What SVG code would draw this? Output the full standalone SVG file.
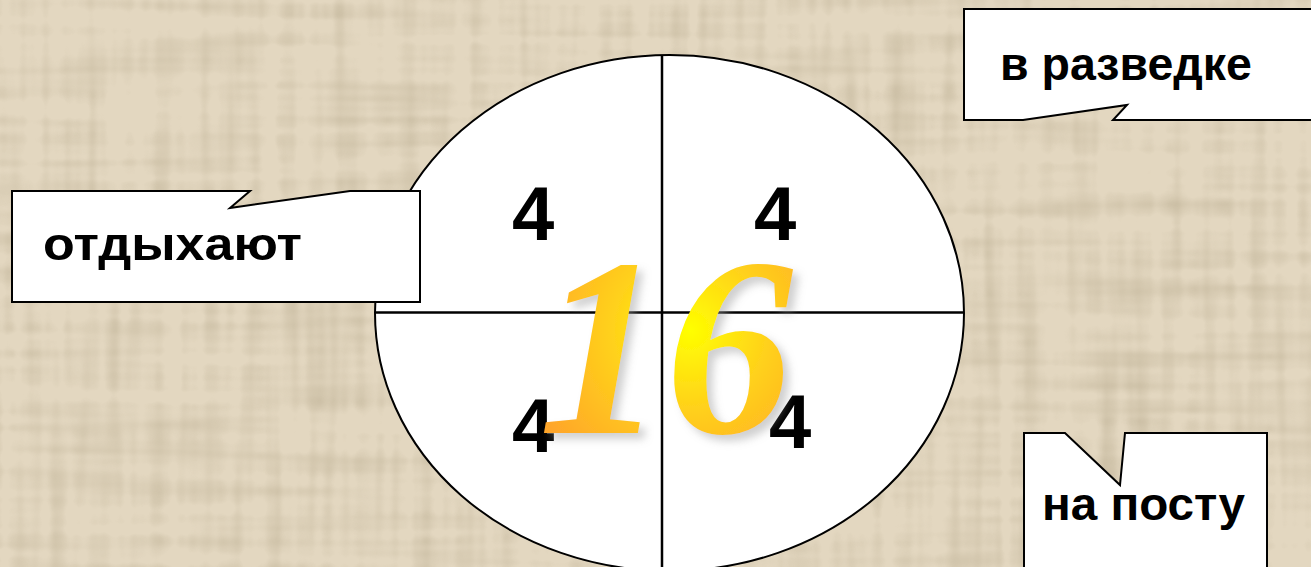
<svg xmlns="http://www.w3.org/2000/svg" width="1311" height="567" viewBox="0 0 1311 567">
  <defs>
    <filter id="tex" x="0" y="0" width="100%" height="100%">
      <feTurbulence type="fractalNoise" baseFrequency="0.004 0.06" numOctaves="2" seed="3" result="h"/>
      <feTurbulence type="fractalNoise" baseFrequency="0.06 0.004" numOctaves="2" seed="7" result="v"/>
      <feComposite in="h" in2="v" operator="arithmetic" k1="0" k2="0.5" k3="0.5" k4="0"/>
      <feColorMatrix type="matrix" values="0 0 0 0 0.45  0 0 0 0 0.38  0 0 0 0 0.25  -2.2 0 0 0 1.25"/>
    </filter>
    <radialGradient id="gold" cx="690" cy="330" r="170" gradientUnits="userSpaceOnUse">
      <stop offset="0" stop-color="#FFFF00"/>
      <stop offset="0.45" stop-color="#FFD21A"/>
      <stop offset="1" stop-color="#FFA62A"/>
    </radialGradient>
    <filter id="shadow" x="-20%" y="-20%" width="140%" height="140%">
      <feGaussianBlur in="SourceAlpha" stdDeviation="4"/>
      <feOffset dx="6" dy="6" result="b"/>
      <feColorMatrix in="b" type="matrix" values="0 0 0 0 0.3  0 0 0 0 0.3  0 0 0 0 0.3  0 0 0 0.45 0" result="s"/>
      <feMerge><feMergeNode in="s"/><feMergeNode in="SourceGraphic"/></feMerge>
    </filter>
  </defs>
  <style>
    .box { fill: #FFFFFF; stroke: #000000; stroke-width: 2; stroke-linejoin: miter; }
    .lbl { font-family: "Liberation Sans", Arial, sans-serif; font-weight: bold; font-size: 47px; fill: #000000; }
    .four { font-family: "Liberation Sans", Arial, sans-serif; font-weight: bold; font-size: 76px; fill: #000000; }
    .div { stroke: #000000; stroke-width: 2.5; }
  </style>

  <rect id="background" x="0" y="0" width="1311" height="567" fill="#E3D7C0"/>
  <rect x="0" y="0" width="1311" height="567" filter="url(#tex)" opacity="0.6"/>

  <g id="circle">
    <ellipse cx="669.5" cy="313" rx="294.5" ry="258" fill="#FFFFFF" stroke="#000000" stroke-width="2"/>
  </g>

  <g id="connectors">
    <line class="div" x1="662" y1="55" x2="662" y2="567"/>
    <line class="div" x1="375" y1="312.5" x2="964" y2="312.5"/>
  </g>

  <g id="quadrant-tl"><text class="four" x="512" y="240">4</text></g>
  <g id="quadrant-tr"><text class="four" x="754" y="240">4</text></g>
  <g id="quadrant-bl"><text class="four" x="512" y="452">4</text></g>
  <g id="quadrant-br"><text class="four" x="769" y="448">4</text></g>

  <g id="total" filter="url(#shadow)">
    <text x="538" y="433" font-family="Liberation Serif, 'Times New Roman', serif" font-style="italic" font-weight="bold" font-size="255" fill="url(#gold)">16</text>
  </g>

  <g id="callout-rest">
    <path class="box" d="M12,191 H250 L230,208 L350,191 H420 V302 H12 Z"/>
    <text class="lbl" x="43" y="260" textLength="259" lengthAdjust="spacingAndGlyphs">отдыхают</text>
  </g>

  <g id="callout-scout">
    <path class="box" d="M964,9 H1320 V120 H1113 L1127,105 L1023,120 H964 Z"/>
    <text class="lbl" x="1000" y="80" textLength="252" lengthAdjust="spacingAndGlyphs">в разведке</text>
  </g>

  <g id="callout-post">
    <path class="box" d="M1024,433 H1065 L1120,485 L1125,433 H1267 V580 H1024 Z"/>
    <text class="lbl" x="1042" y="520" textLength="203" lengthAdjust="spacingAndGlyphs">на посту</text>
  </g>
</svg>
